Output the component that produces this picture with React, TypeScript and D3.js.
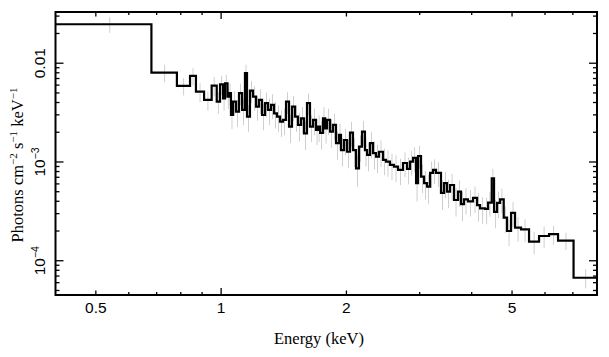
import React from 'react';
import * as d3 from 'd3';

// Bin edges in keV (n+1 edges)
const binEdges = [0.4, 0.680, 0.783, 0.842, 0.870, 0.910, 0.949, 0.976, 0.994, 1.011, 1.022, 1.036, 1.045, 1.056, 1.068, 1.086, 1.104, 1.123, 1.141, 1.154, 1.173, 1.193, 1.213, 1.233, 1.254, 1.275, 1.296, 1.318, 1.340, 1.362, 1.385, 1.408, 1.432, 1.456, 1.480, 1.505, 1.530, 1.556, 1.582, 1.608, 1.635, 1.663, 1.690, 1.710, 1.729, 1.757, 1.777, 1.797, 1.827, 1.857, 1.888, 1.920, 1.941, 1.974, 2.007, 2.040, 2.074, 2.109, 2.144, 2.180, 2.216, 2.242, 2.279, 2.317, 2.356, 2.395, 2.449, 2.490, 2.545, 2.602, 2.661, 2.735, 2.797, 2.844, 2.892, 2.940, 2.973, 3.022, 3.073, 3.124, 3.177, 3.230, 3.283, 3.375, 3.432, 3.489, 3.548, 3.627, 3.708, 3.770, 3.833, 3.918, 4.029, 4.120, 4.189, 4.307, 4.379, 4.469, 4.526, 4.602, 4.679, 4.775, 4.864, 4.973, 5.084, 5.255, 5.493, 5.806, 6.136, 6.449, 7.027, 8.0];

// Flux per bin (photons cm^-2 s^-1 keV^-1)
const fluxValues = [0.0248, 0.00803, 0.00589, 0.00743, 0.00515, 0.00425, 0.00593, 0.00408, 0.00612, 0.00441, 0.00627, 0.00459, 0.00497, 0.00299, 0.00408, 0.00324, 0.00497, 0.00337, 0.00792, 0.00288, 0.00527, 0.00459, 0.00363, 0.00425, 0.00299, 0.00394, 0.00337, 0.00378, 0.00311, 0.00288, 0.00256, 0.00267, 0.00408, 0.00228, 0.00363, 0.00288, 0.00237, 0.00277, 0.00195, 0.00394, 0.00228, 0.00267, 0.00211, 0.00228, 0.00197, 0.00277, 0.00219, 0.00267, 0.00203, 0.00237, 0.00155, 0.00188, 0.00132, 0.00167, 0.00127, 0.00198, 0.00132, 0.000863, 0.00143, 0.00203, 0.00132, 0.00118, 0.00155, 0.00123, 0.00113, 0.00127, 0.00105, 0.00101, 0.000933, 0.000896, 0.000830, 0.000977, 0.00085, 0.00101, 0.0011, 0.000612, 0.00115, 0.00071, 0.000612, 0.000562, 0.000775, 0.00083, 0.000775, 0.000486, 0.000612, 0.0005, 0.000585, 0.000412, 0.0005, 0.000375, 0.000419, 0.0004, 0.000434, 0.000366, 0.000339, 0.000334, 0.000387, 0.000684, 0.000313, 0.000385, 0.000419, 0.000273, 0.0002, 0.000306, 0.000216, 0.000208, 0.000156, 0.000178, 0.000186, 0.00016, 0.0000673];

// Relative 1-sigma errors per bin
const relErrors = [0.18, 0.2, 0.2, 0.2, 0.22, 0.22, 0.22, 0.25, 0.22, 0.25, 0.22, 0.25, 0.25, 0.28, 0.28, 0.3, 0.25, 0.3, 0.22, 0.3, 0.25, 0.28, 0.28, 0.28, 0.3, 0.28, 0.3, 0.28, 0.3, 0.3, 0.3, 0.3, 0.25, 0.32, 0.28, 0.3, 0.32, 0.3, 0.32, 0.25, 0.3, 0.3, 0.3, 0.3, 0.32, 0.3, 0.3, 0.3, 0.32, 0.3, 0.32, 0.3, 0.32, 0.3, 0.32, 0.28, 0.32, 0.35, 0.3, 0.28, 0.32, 0.32, 0.3, 0.32, 0.32, 0.3, 0.3, 0.3, 0.3, 0.3, 0.3, 0.28, 0.3, 0.28, 0.28, 0.35, 0.26, 0.32, 0.32, 0.33, 0.3, 0.28, 0.28, 0.33, 0.3, 0.32, 0.3, 0.32, 0.3, 0.33, 0.3, 0.3, 0.3, 0.32, 0.3, 0.3, 0.28, 0.25, 0.32, 0.3, 0.28, 0.3, 0.3, 0.28, 0.28, 0.26, 0.25, 0.25, 0.22, 0.2, 0.22];

const xDomain = [0.4, 8];
const yDomain = [4.5e-5, 0.033];
const xTickValues = [0.5, 1, 2, 5];
const xTickLabels = ['0.5', '1', '2', '5'];
const yTickValues = [0.01, 0.001, 0.0001];
const yTickBase = ['0.01', '10', '10'];
const yTickExp = ['', '\u22123', '\u22124'];

const W = 609;
const H = 357;
const L = 55.5, R = 597, T = 12, B = 295;

export default function App() {
  const x = d3.scaleLog().domain(xDomain).range([L, R]);
  const y = d3.scaleLog().domain(yDomain).range([B, T]);

  const pts: [number, number][] = [];
  fluxValues.forEach((v, i) => {
    pts.push([binEdges[i], v]);
    pts.push([binEdges[i + 1], v]);
  });
  const line = d3.line<[number, number]>().x(d => x(d[0])).y(d => y(d[1]));

  const xt = x.ticks().filter(t => t > xDomain[0] * 1.001 && t < xDomain[1] * 0.999);
  const yt = y.ticks().filter(t => t > yDomain[0] * 1.001 && t < yDomain[1] * 0.999);
  const isDecade = (t: number) => Math.abs(Math.log10(t) - Math.round(Math.log10(t))) < 1e-6;
  const xLen = (t: number) => (isDecade(t) ? 7 : xTickValues.some(v => Math.abs(v - t) < 1e-9) ? 4.5 : 3);
  const yLen = (t: number) => (isDecade(t) ? 8 : 4);

  const sans = 'Liberation Sans, Arial, sans-serif';
  const serif = 'Liberation Serif, Times New Roman, serif';

  return (
    <svg width={W} height={H} style={{ position: 'absolute', left: 0, top: 0, background: '#fff' }}>
      <defs>
        <clipPath id="plotclip">
          <rect x={L} y={T} width={R - L} height={B - T} />
        </clipPath>
      </defs>
      <g clipPath="url(#plotclip)">
        {fluxValues.map((v, i) => {
          const c = (binEdges[i] + binEdges[i + 1]) / 2;
          const e = relErrors[i];
          return (
            <line key={'e' + i} x1={x(c)} x2={x(c)} y1={y(v * (1 + e))} y2={y(v * (1 - e))}
              stroke="#cfcfcf" strokeWidth={1} />
          );
        })}
        <path d={line(pts) || ''} fill="none" stroke="#000" strokeWidth={2.2} strokeLinejoin="miter" />
      </g>
      {/* ticks */}
      {xt.map((t, i) => (
        <g key={'xt' + i} stroke="#000" strokeWidth={1.3}>
          <line x1={x(t)} x2={x(t)} y1={B} y2={B - xLen(t)} />
          <line x1={x(t)} x2={x(t)} y1={T} y2={T + xLen(t)} />
        </g>
      ))}
      {yt.map((t, i) => (
        <g key={'yt' + i} stroke="#000" strokeWidth={1.3}>
          <line x1={L} x2={L + yLen(t)} y1={y(t)} y2={y(t)} />
          <line x1={R} x2={R - yLen(t)} y1={y(t)} y2={y(t)} />
        </g>
      ))}
      <rect x={L} y={T} width={R - L} height={B - T} fill="none" stroke="#000" strokeWidth={2} />
      {/* x tick labels */}
      {xTickValues.map((t, i) => (
        <text key={'xl' + i} x={x(t)} y={313} textAnchor="middle" fontFamily={sans} fontSize={15.5} fill="#000">
          {xTickLabels[i]}
        </text>
      ))}
      {/* y tick labels */}
      {yTickValues.map((t, i) => (
        <text key={'yl' + i} transform={`translate(45,${y(t)}) rotate(-90)`} textAnchor="middle"
          fontFamily={sans} fontSize={15.5} fill="#000">
          {yTickBase[i]}
          {yTickExp[i] ? <tspan dy={-6} fontSize={10.5}>{yTickExp[i]}</tspan> : null}
        </text>
      ))}
      {/* axis titles */}
      <text x={319} y={344} textAnchor="middle" fontFamily={serif} fontSize={16.5} fill="#000">Energy (keV)</text>
      <text transform="translate(22.5,165) rotate(-90)" textAnchor="middle" fontFamily={serif} fontSize={16.5} fill="#000">
        Photons cm<tspan dy={-6} fontSize={11}>{'\u22122'}</tspan>
        <tspan dy={6}> s</tspan><tspan dy={-6} fontSize={11}>{'\u22121'}</tspan>
        <tspan dy={6}> keV</tspan><tspan dy={-6} fontSize={11}>{'\u22121'}</tspan>
      </text>
    </svg>
  );
}
